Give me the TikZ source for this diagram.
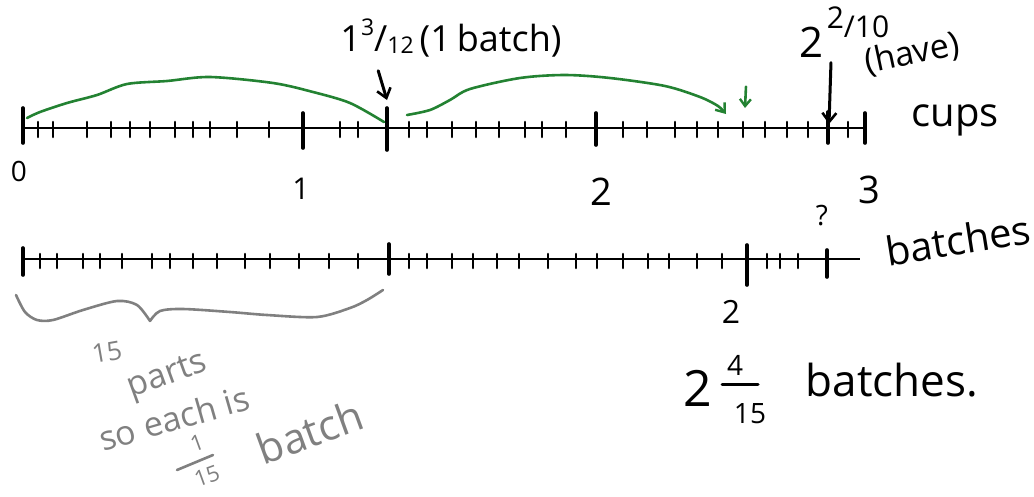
\documentclass[tikz,border=0pt]{standalone}
\usepackage{fontspec}
\setmainfont{Open Sans}
\usetikzlibrary{arrows.meta}
\definecolor{hgreen}{RGB}{35,130,50}
\definecolor{hgray}{RGB}{128,128,128}
\begin{document}
\begin{tikzpicture}[x=1pt,y=1pt,
  axis/.style={line width=2.6pt,black},
  tminor/.style={line width=2.6pt,line cap=round,black},
  tbig/.style={line width=3.6pt,line cap=round,black},
  grn/.style={draw=hgreen,line width=2.6pt,line cap=round},
  gry/.style={draw=hgray,line width=2.6pt,line cap=round},
  barb/.style={-{Straight Barb[length=9pt,width=14pt,line width=2.6pt]}},
  lbl/.style={inner sep=0pt,outer sep=0pt,text=black},
  glbl/.style={inner sep=0pt,outer sep=0pt,text=hgray}
]
\useasboundingbox (0,0) rectangle (1034,-496);

% ---------- cups number line ----------
\coordinate (c0) at (22,-128);
\coordinate (c3) at (866,-128);
\draw[axis] (c0) -- (c3);
\foreach \x in {38,53,87,111,130,150,175,193,210,237,269,340,358,409,427,452,476,499,525,542,566,623,647,675,697,718,743,765,787,808,848}
  \draw[tminor] (\x,-122) -- (\x,-137);
\draw[tbig] (23,-108) -- (23,-143);
\draw[tbig] (303,-113) -- (303,-148);
\draw[tbig] (387,-108) -- (387,-150);
\draw[tbig] (596,-113) -- (596,-145);
\draw[tbig] (828,-112) -- (828,-143);
\draw[tbig] (865,-113) -- (865,-143);
\coordinate (onebatch) at (387,-100);
\coordinate (have) at (829,-124);
\coordinate (gtip) at (726,-114);
\coordinate (gtip2) at (745,-108);

\node[lbl,font=\fontsize{28}{30}\selectfont] (n0) at (19,-171) {0};
\node[lbl,font=\fontsize{30}{32}\selectfont] (n1) at (301,-189) {1};
\node[lbl,font=\fontsize{38}{40}\selectfont] (n2) at (601,-192) {2};
\node[lbl,font=\fontsize{38}{40}\selectfont] (n3) at (869,-190) {3};
\node[lbl,font=\fontsize{40}{42}\selectfont] (cups) at (955,-120) {cups};

% label 1 3/12 (1 batch)
\node[lbl,font=\fontsize{36}{38}\selectfont] (lab1) at (451,-38) {1\raisebox{0.45em}{\fontsize{23}{25}\selectfont 3}/\raisebox{-0.05em}{\fontsize{23}{25}\selectfont 12}\,(1\,batch)};
\node[inner sep=0pt] (arrowtop) at (378,-70) {};
\draw[line width=3pt,line cap=round,barb] (arrowtop) -- (onebatch);

% label 2 2/10 (have)
\node[lbl,font=\fontsize{42}{44}\selectfont] (lab2) at (811,-42) {2};
\node[lbl,font=\fontsize{30}{32}\selectfont] (lab2f) at (858,-22) {\raisebox{0.3em}{2}/10};
\node[lbl,font=\fontsize{34}{36}\selectfont,rotate=12] (lab2h) at (912,-54) {(have)};
\node[inner sep=0pt] (haveTop) at (831,-62) {};
\draw[line width=3pt,line cap=round,barb] (haveTop) -- (have);

% green jumps
\draw[grn] plot[smooth] coordinates {(27,-118) (40,-112) (67,-103) (97,-95) (127,-84) (167,-81) (210,-77) (273,-83) (313,-92) (350,-103) (384,-122)};
\draw[grn,-{Straight Barb[length=8pt,width=12pt,line width=2.4pt]}] plot[smooth] coordinates {(407,-115) (430,-110) (450,-100) (470,-89) (520,-78) (565,-75) (610,-78) (665,-86) (700,-97) (718,-106) (gtip)};
\node[inner sep=0pt] (gtop2) at (746,-86) {};
\draw[grn,-{Straight Barb[length=7pt,width=11pt,line width=2.4pt]}] (gtop2) -- (gtip2);

% ---------- batches number line ----------
\coordinate (b0) at (22,-259);
\coordinate (b1) at (860,-259);
\draw[axis] (b0) -- (b1);
\foreach \x in {40,57,83,100,122,152,170,193,217,245,270,299,329,358,409,427,452,473,497,519,548,576,597,623,648,669,697,722,767,780,798}
  \draw[tminor] (\x,-254) -- (\x,-268);
\draw[tbig] (23,-248) -- (23,-275);
\draw[tbig] (389,-244) -- (389,-274);
\draw[tbig] (747,-245) -- (747,-285);
\draw[tbig] (827,-250) -- (827,-277);

\node[lbl,font=\fontsize{40}{42}\selectfont,rotate=9] (batches) at (958,-240) {batches};
\node[lbl,font=\fontsize{32}{34}\selectfont] (b2) at (731,-312) {2};
\node[lbl,font=\fontsize{28}{30}\selectfont] (qm) at (822,-216) {?};

% brace
\draw[gry] plot[smooth] coordinates {(16,-295) (25,-312) (37,-320) (53,-320) (83,-310) (117,-301) (137,-305) (150,-321)};
\draw[gry] plot[smooth] coordinates {(150,-321) (160,-311) (183,-309) (230,-312) (267,-315) (317,-317) (350,-308) (367,-300) (383,-290)};

% gray notes
\node[glbl,font=\fontsize{26}{28}\selectfont,rotate=10] (g15) at (107,-352) {15};
\node[glbl,font=\fontsize{34}{36}\selectfont,rotate=20] (gparts) at (168,-377) {parts};
\node[glbl,font=\fontsize{34}{36}\selectfont,rotate=16] (geach) at (174,-418) {so each is};
\node[glbl,font=\fontsize{22}{24}\selectfont,rotate=20] (gnum) at (197,-443) {1};
\draw[gry] (177,-470) -- (213,-455);
\node[glbl,font=\fontsize{22}{24}\selectfont,rotate=20] (gden) at (207,-476) {15};
\node[glbl,font=\fontsize{42}{44}\selectfont,rotate=20] (gbatch) at (310,-432) {batch};

% answer
\node[lbl,font=\fontsize{50}{52}\selectfont] (a2) at (698,-388) {2};
\node[lbl,font=\fontsize{28}{30}\selectfont] (anum) at (735,-365) {4};
\draw[line width=3pt,line cap=round] (722,-384) -- (758,-384);
\node[lbl,font=\fontsize{28}{30}\selectfont] (aden) at (750,-414) {15};
\node[lbl,font=\fontsize{44}{46}\selectfont] (abatches) at (892,-380) {batches.};
\end{tikzpicture}
\end{document}
